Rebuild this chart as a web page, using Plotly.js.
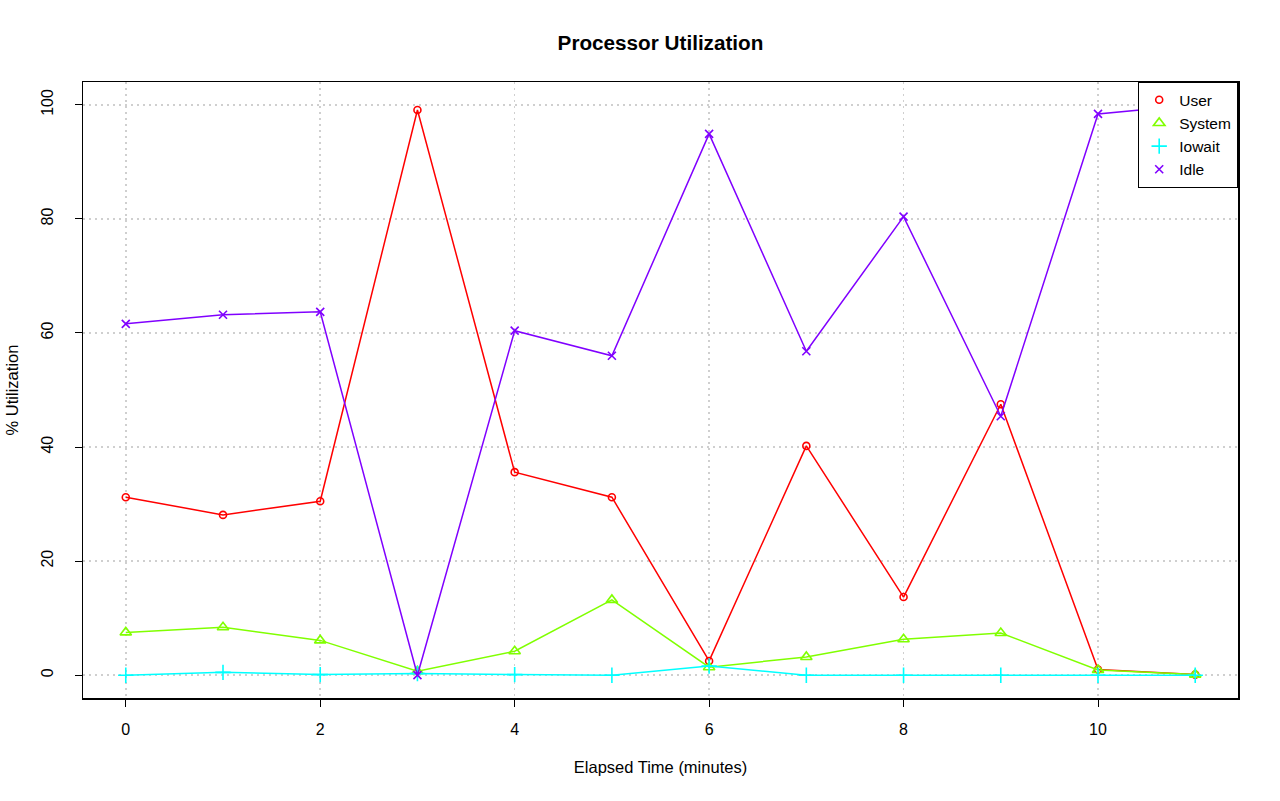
<!DOCTYPE html>
<html>
<head>
<meta charset="utf-8">
<script src="https://cdn.plot.ly/plotly-3.0.1.min.js"></script>
<style>html,body{margin:0;padding:0;background:#fff;}#chart{width:1280px;height:801px;}</style>
</head>
<body>
<div id="chart"></div>
<script>
const minutes = [0,1,2,3,4,5,6,7,8,9,10,11];
const userVals   = [31.2,28.1,30.5,99.1,35.6,31.2,2.5,40.2,13.7,47.5,1.0,0.1];
const systemVals = [7.5,8.4,6.1,0.7,4.2,13.2,1.4,3.2,6.3,7.4,0.9,0.1];
const iowaitVals = [0.0,0.5,0.1,0.3,0.1,0.0,1.6,0.0,0.0,0.0,0.0,0.0];
const idleVals   = [61.6,63.2,63.7,0.0,60.4,56.0,94.9,56.8,80.4,45.4,98.4,100.0];
const seriesNames = ["User","System","Iowait","Idle"];
const xTicks = [0,2,4,6,8,10];
const yTicks = [0,20,40,60,80,100];

const colors = ["#FF0000","#80FF00","#00FFFF","#8000FF"];
const symbols = ["circle-open","triangle-up-open","cross-thin-open","x-thin-open"];
const sizes = [7,10,11,8];
const allVals = [userVals, systemVals, iowaitVals, idleVals];

const traces = [];
allVals.forEach((vals,i)=>{
  traces.push({
    x: minutes, y: vals, type:'scatter', mode:'lines+markers', name: seriesNames[i],
    showlegend:false,
    line:{color:colors[i], width:1.5},
    marker:{symbol:symbols[i], size:sizes[i], color:colors[i], line:{color:colors[i], width:1.6}}
  });
});
allVals.forEach((vals,i)=>{
  traces.push({
    x:[null], y:[null], type:'scatter', mode:'markers', name: seriesNames[i],
    marker:{symbol:symbols[i], size:sizes[i], color:colors[i], line:{color:colors[i], width:1.6}}
  });
});

const layout = {
  width:1280, height:801,
  paper_bgcolor:'#fff', plot_bgcolor:'#fff',
  font:{family:'Liberation Sans, Arial, sans-serif', size:16, color:'#000'},
  margin:{l:83, r:42, t:82, b:103},
  title:{text:'<b>Processor Utilization</b>', xref:'paper', x:0.5, xanchor:'center', y:0.947, yanchor:'middle', font:{size:20.7}},
  xaxis:{
    range:[-0.44,11.44], tickvals:xTicks, ticktext:xTicks.map(String),
    showgrid:true, gridcolor:'#cfcfcf', griddash:'2px,4px', gridwidth:1.5,
    zeroline:false, showline:true, linecolor:'#000', linewidth:1.5, mirror:true,
    ticks:'outside', ticklen:7, tickcolor:'#000', tickwidth:1, ticklabelstandoff:9,
    tickfont:{size:16},
    title:{text:'Elapsed Time (minutes)', standoff:24, font:{size:16.5}}
  },
  yaxis:{
    range:[-4,104], tickvals:yTicks, ticktext:yTicks.map(String), tickangle:-90,
    showgrid:true, gridcolor:'#cfcfcf', griddash:'2px,4px', gridwidth:1.5,
    zeroline:false, showline:true, linecolor:'#000', linewidth:1.5, mirror:true,
    ticks:'outside', ticklen:7, tickcolor:'#000', tickwidth:1, ticklabelstandoff:15,
    tickfont:{size:16},
    title:{text:'% Utilization', standoff:16, font:{size:16.5}}
  },
  legend:{x:1, y:1, xanchor:'right', yanchor:'top', bgcolor:'#fff', bordercolor:'#000', borderwidth:1.2,
    font:{size:15.5}, itemwidth:30, tracegroupgap:0}
};
Plotly.newPlot('chart', traces, layout, {displayModeBar:false, staticPlot:true});
</script>
</body>
</html>
